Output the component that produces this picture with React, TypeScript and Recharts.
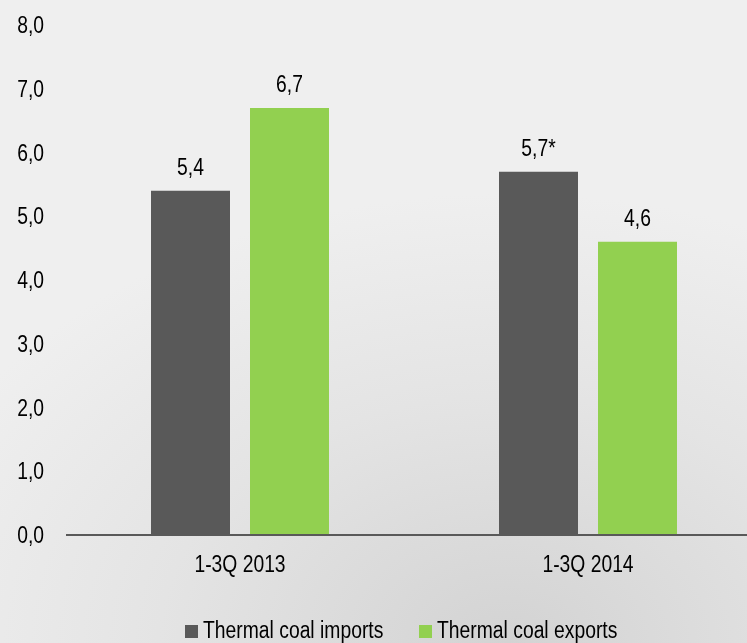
import React from "react";
import { BarChart, Bar, XAxis, YAxis, LabelList, Legend } from "recharts";

const categories = ["1-3Q 2013", "1-3Q 2014"];
const importsValues = [5.4, 5.7];
const exportsValues = [6.7, 4.6];
const importsLabels = ["5,4", "5,7*"];
const exportsLabels = ["6,7", "4,6"];
const yTicks = [0, 1, 2, 3, 4, 5, 6, 7, 8];
const seriesNames = ["Thermal coal imports", "Thermal coal exports"];

const DARK = "#595959";
const GREEN = "#92d050";
const FONT = "'Liberation Sans', Arial, sans-serif";
const FS = 23;
const SX = 0.84;

const data = categories.map((c, i) => ({
  name: c,
  imports: importsValues[i],
  exports: exportsValues[i],
  importsLabel: importsLabels[i],
  exportsLabel: exportsLabels[i],
}));

const YTick = (props: any) => {
  const { x, y, payload } = props;
  return (
    <g transform={`translate(${x},${y})`}>
      <text
        transform={`scale(${SX},1)`}
        textAnchor="end"
        dy="0.355em"
        fontFamily={FONT}
        fontSize={FS}
        fill="#000"
      >
        {Number(payload.value).toFixed(1).replace(".", ",")}
      </text>
    </g>
  );
};

const XTick = (props: any) => {
  const { x, y, payload } = props;
  return (
    <g transform={`translate(${x},${y})`}>
      <text
        transform={`scale(${SX},1)`}
        textAnchor="middle"
        dy="0.71em"
        fontFamily={FONT}
        fontSize={FS}
        fill="#000"
      >
        {payload.value}
      </text>
    </g>
  );
};

const BarLabel = (props: any) => {
  const { x, y, width, value } = props;
  return (
    <g transform={`translate(${Number(x) + Number(width) / 2},${Number(y) - 16})`}>
      <text transform={`scale(${SX},1)`} textAnchor="middle" fontFamily={FONT} fontSize={FS} fill="#000">
        {value}
      </text>
    </g>
  );
};

const LegendContent = () => {
  const textStyle: React.CSSProperties = {
    position: "absolute",
    top: 0,
    whiteSpace: "nowrap",
    transform: `scaleX(${SX})`,
    transformOrigin: "0 0",
    fontFamily: FONT,
    fontSize: FS,
    lineHeight: "26px",
    color: "#000",
  };
  const sq: React.CSSProperties = { position: "absolute", top: 8, width: 13, height: 13 };
  return (
    <div style={{ position: "relative", height: 26, width: 747 }}>
      <span style={{ ...sq, left: 185, background: DARK }} />
      <span style={{ ...textStyle, left: 203 }}>{seriesNames[0]}</span>
      <span style={{ ...sq, left: 419, background: GREEN }} />
      <span style={{ ...textStyle, left: 437 }}>{seriesNames[1]}</span>
    </div>
  );
};

export default function App() {
  return (
    <div
      style={{
        position: "fixed",
        top: 0,
        left: 0,
        width: 747,
        height: 643,
        overflow: "hidden",
        background:
          "radial-gradient(ellipse 85% 70% at 68% 100%, #d3d3d3 0%, #e4e4e4 55%, #efefef 100%)",
      }}
    >
      <BarChart
        width={762}
        height={643}
        data={data}
        margin={{ top: 25, right: 0, left: 0, bottom: 0 }}
        barSize={79}
        barGap={20}
        barCategoryGap={85}
      >
        <YAxis
          width={66}
          domain={[0, 8]}
          ticks={yTicks}
          axisLine={false}
          tickLine={false}
          tickSize={0}
          tickMargin={22}
          tick={<YTick />}
          interval={0}
        />
        <XAxis
          dataKey="name"
          height={82}
          axisLine={{ stroke: DARK, strokeWidth: 2 }}
          tickLine={false}
          tickSize={0}
          tickMargin={21}
          tick={<XTick />}
        />
        <Legend verticalAlign="bottom" align="left" height={26} content={<LegendContent />} wrapperStyle={{ left: 0 }} />
        <Bar dataKey="imports" name={seriesNames[0]} fill={DARK} isAnimationActive={false}>
          <LabelList dataKey="importsLabel" content={<BarLabel />} />
        </Bar>
        <Bar dataKey="exports" name={seriesNames[1]} fill={GREEN} isAnimationActive={false}>
          <LabelList dataKey="exportsLabel" content={<BarLabel />} />
        </Bar>
      </BarChart>
    </div>
  );
}
